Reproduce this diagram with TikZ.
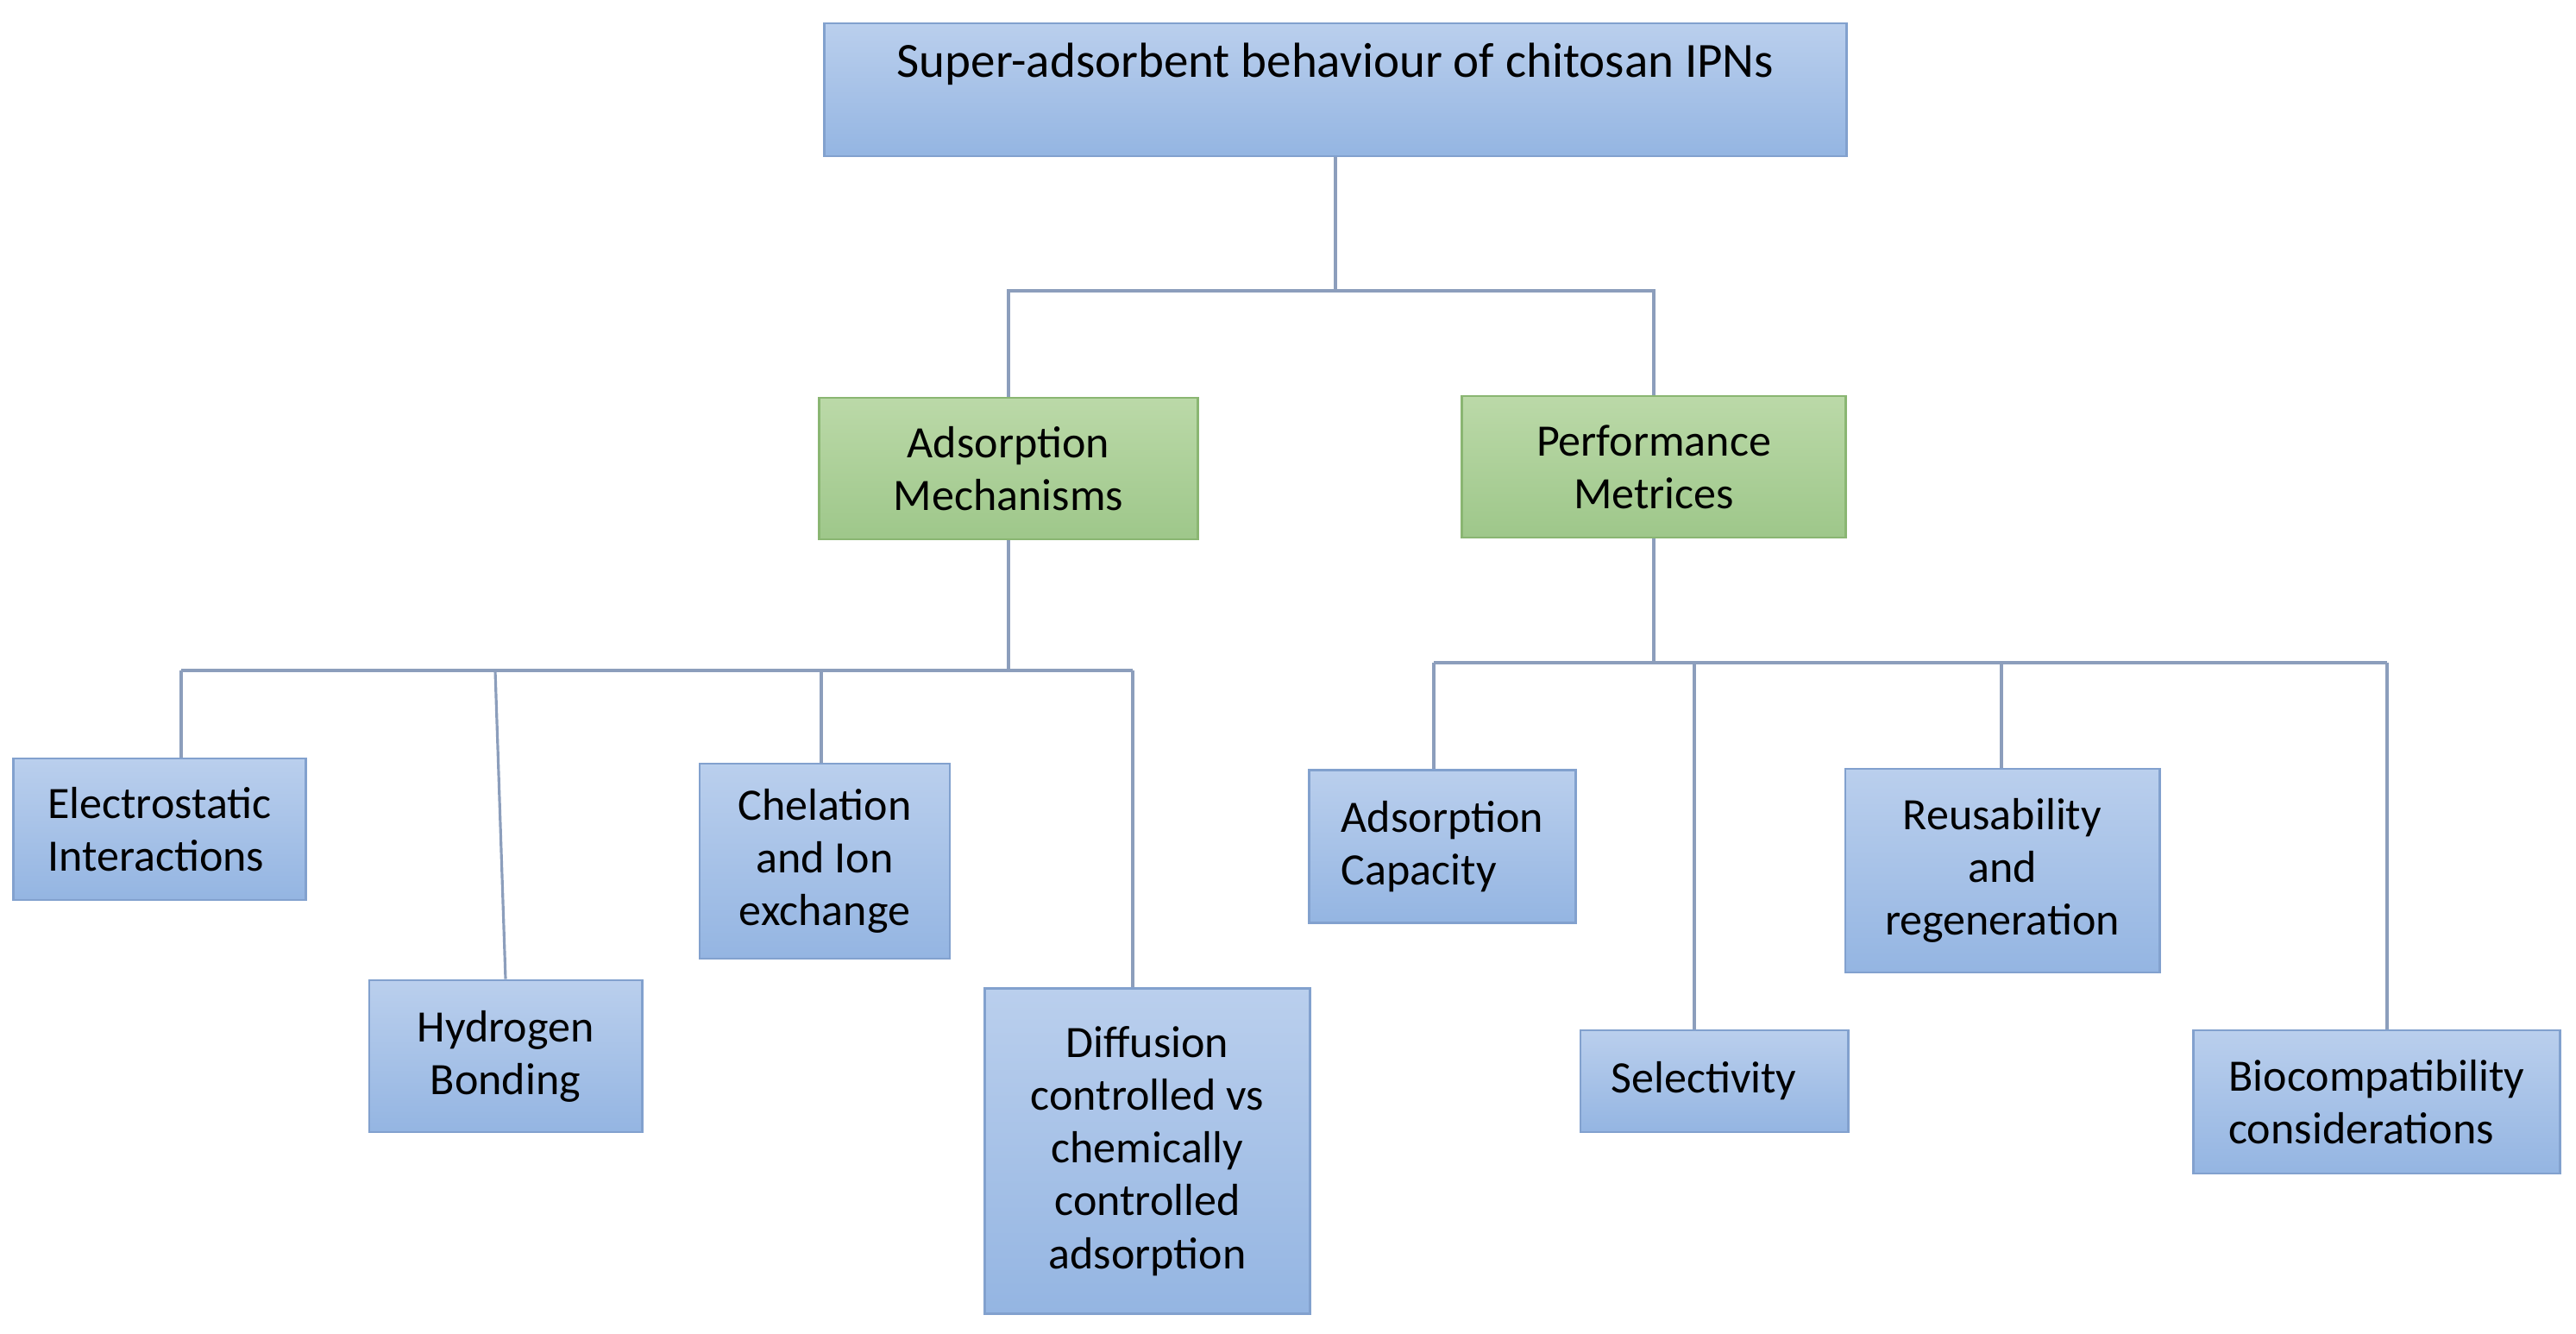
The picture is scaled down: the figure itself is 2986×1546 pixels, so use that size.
\documentclass[tikz,border=0pt]{standalone}
\usepackage{fontspec}
\setmainfont{Carlito}
\definecolor{bluetop}{RGB}{186,207,237}
\definecolor{bluebot}{RGB}{148,181,226}
\definecolor{blueedge}{RGB}{130,161,206}
\definecolor{greentop}{RGB}{187,217,168}
\definecolor{greenbot}{RGB}{158,199,138}
\definecolor{greenedge}{RGB}{138,182,114}
\definecolor{linkgray}{RGB}{140,158,188}
\usetikzlibrary{positioning,calc}

\begin{document}
\begin{tikzpicture}[x=0.01cm,y=-0.01cm,
  bodyfont/.style={font=\fontsize{14.8}{17.4}\selectfont},
  bluebox/.style={draw=blueedge,line width=0.8pt,top color=bluetop,bottom color=bluebot,
    inner sep=0pt,align=center,bodyfont},
  greenbox/.style={draw=greenedge,line width=0.8pt,top color=greentop,bottom color=greenbot,
    inner sep=0pt,align=center,bodyfont},
  link/.style={draw=linkgray,line width=0.9pt}]
  \useasboundingbox (0,0) rectangle (2986,1546);
  % top level
  \node[bluebox,font=\fontsize{16.2}{19}\selectfont,minimum width=11.84cm,
    text height=0.63cm,text depth=0.91cm,anchor=base] (title) at (1548,90)
    {Super-adsorbent behaviour of chitosan IPNs};
  \node[greenbox,minimum width=4.38cm,minimum height=1.64cm] (adsm) at (1169,543) {Adsorption\\Mechanisms};
  \node[greenbox,minimum width=4.45cm,minimum height=1.64cm] (perf) at (1917,541) {Performance\\Metrices};
  % mechanisms
  \node[bluebox,align=left,minimum width=3.39cm,minimum height=1.64cm] (elec) at (185,961) {Electrostatic\\Interactions};
  \node[bluebox,minimum width=3.16cm,minimum height=1.76cm] (hyd) at (586,1224) {Hydrogen\\Bonding};
  \node[bluebox,minimum width=2.90cm,minimum height=2.26cm] (chel) at (956,998) {Chelation\\and Ion\\exchange};
  \node[bluebox,minimum width=3.76cm,minimum height=3.77cm] (diff) at (1330,1334) {Diffusion\\controlled vs\\chemically\\controlled\\adsorption};
  % metrics
  \node[bluebox,align=left,minimum width=3.09cm,minimum height=1.77cm] (cap) at (1672,981) {Adsorption\\Capacity};
  \node[bluebox,minimum width=3.10cm,minimum height=1.18cm] (sel) at (1987,1253) {Selectivity\hspace{0.24cm}};
  \node[bluebox,minimum width=3.64cm,minimum height=2.36cm] (reus) at (2321,1009) {Reusability\\and\\regeneration};
  \node[bluebox,align=left,minimum width=4.24cm,minimum height=1.66cm] (bio) at (2755,1277) {Biocompatibility\\considerations};

  \coordinate (bus1) at (1548,337);
  \coordinate (d1) at (210,777); \coordinate (d2) at (574,777);
  \coordinate (d3) at (952,777); \coordinate (d4) at (1313,777);
  \coordinate (e1) at (1662,768); \coordinate (e2) at (1964,768);
  \coordinate (e3) at (2320,768); \coordinate (e4) at (2767,768);

  \draw[link] (title) -- (bus1);
  \draw[link] (adsm.north) -- (adsm.north |- bus1) -- (perf.north |- bus1) -- (perf.north);
  \draw[link] (adsm.south) -- (adsm.south |- d1);
  \draw[link] (d1) -- (d4);
  \draw[link] (d1) -- (d1 |- elec.north);
  \draw[link] (d2) -- (hyd.north);
  \draw[link] (d3) -- (d3 |- chel.north);
  \draw[link] (d4) -- (d4 |- diff.north);
  \draw[link] (perf.south) -- (perf.south |- e1);
  \draw[link] (e1) -- (e4);
  \draw[link] (e1) -- (e1 |- cap.north);
  \draw[link] (e2) -- (e2 |- sel.north);
  \draw[link] (e3) -- (e3 |- reus.north);
  \draw[link] (e4) -- (e4 |- bio.north);
\end{tikzpicture}
\end{document}
